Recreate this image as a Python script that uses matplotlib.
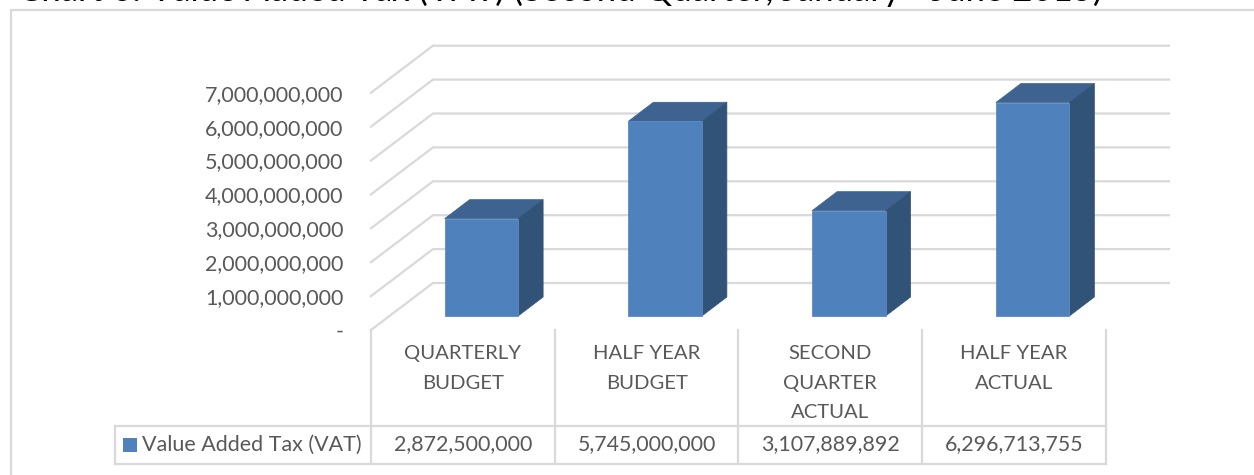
import numpy as np
import matplotlib.pyplot as plt
from matplotlib.patches import Polygon, Rectangle

plt.rcParams['font.family'] = ['Lato', 'DejaVu Sans']

# data
categories = ['QUARTERLY\nBUDGET', 'HALF YEAR\nBUDGET', 'SECOND\nQUARTER\nACTUAL', 'HALF YEAR\nACTUAL']
vat_values = [2872500000, 5745000000, 3107889892, 6296713755]
value_labels = ['2,872,500,000', '5,745,000,000', '3,107,889,892', '6,296,713,755']
tick_values = [0, 1e9, 2e9, 3e9, 4e9, 5e9, 6e9, 7e9]
tick_labels = ['-', '1,000,000,000', '2,000,000,000', '3,000,000,000', '4,000,000,000',
               '5,000,000,000', '6,000,000,000', '7,000,000,000']
series_name = 'Value Added Tax (VAT)'
title = 'Chart 6: Value Added Tax (VAT) (Second Quarter, January - June 2015)'

W, H = 1254, 475
TEXT = '#595959'
GRID = '#D9D9D9'
FRONT = '#4F81BD'
TOP = '#3E6390'
SIDE = '#325378'

fig = plt.figure(figsize=(W / 100, H / 100), dpi=100)

# overlay in pixel coordinates for the frame and the table rules
bg = fig.add_axes([0, 0, 1, 1])
bg.set_xlim(0, W)
bg.set_ylim(H, 0)
bg.axis('off')
bg.plot([11, 11, W], [H, 10, 10], color=GRID, lw=1.6)

# main axes: front plane of the 3d box, value 0 sits on the table top
x0, x1, y0 = 371, 1106, 330
px_per_val = 33.9 / 1e9
ax = fig.add_axes([x0 / W, 1 - y0 / H, (x1 - x0) / W, 7e9 * px_per_val / H])
ax.set_xlim(0, 4)
ax.set_ylim(0, 7e9)
ax.patch.set_alpha(0)
for s in ax.spines.values():
    s.set_visible(False)

ux = 4 / (x1 - x0)      # data units per pixel
uy = 1 / px_per_val

# gridlines run along the floor to the back wall
for v in tick_values:
    ax.plot([0, 62 * ux, (1169 - x0) * ux],
            [v, v + 47 * uy, v + 47 * uy],
            color=GRID, lw=1.6, clip_on=False, zorder=1, solid_joinstyle='miter')

# bars with depth faces, set back from the front plane of the floor
centers = np.arange(4) + 0.5
bar_x = centers + 18.5 * ux
bar_w = 73.5 * ux
base = 14 * uy
dx, dy = 25 * ux, 19 * uy
ax.bar(bar_x, vat_values, width=bar_w, bottom=base, color=FRONT, edgecolor='#5B8AC3', linewidth=0.6, zorder=3)
for c, v in zip(bar_x, vat_values):
    l, r = c - bar_w / 2, c + bar_w / 2
    top = base + v
    ax.add_patch(Polygon([(l, top), (r, top), (r + dx, top + dy), (l + dx, top + dy)],
                         facecolor=TOP, edgecolor=TOP, lw=0.5, clip_on=False, zorder=2.5))
    ax.add_patch(Polygon([(r, base), (r, top), (r + dx, top + dy), (r + dx, base + dy)],
                         facecolor=SIDE, edgecolor=SIDE, lw=0.5, clip_on=False, zorder=2.5))

ax.set_yticks(tick_values)
ax.set_yticklabels(tick_labels, fontsize=15.5, color=TEXT)
ax.tick_params(axis='y', length=0, pad=20)
ax.set_xticks(centers)
ax.set_xticklabels(categories, fontsize=14.6, color=TEXT, linespacing=1.9)
ax.tick_params(axis='x', length=0, pad=11)

# data table under the plot
cell_edges = [371, 555, 738, 922, 1106]
row_top, row_bottom = 426, 464
for x in cell_edges:
    bg.plot([x, x], [y0, row_bottom], color=GRID, lw=1.6)
bg.plot([115, 1106], [row_top, row_top], color=GRID, lw=1.6)
bg.plot([115, 1106], [row_bottom, row_bottom], color=GRID, lw=1.6)
bg.plot([115, 115], [row_top, row_bottom], color=GRID, lw=1.6)
bg.add_patch(Rectangle((123, 438), 14, 14, facecolor=FRONT))
bg.text(142, 444.5, series_name, fontsize=15.5, color=TEXT, va='center', ha='left')
for c, lab in zip(cell_edges[:-1], value_labels):
    bg.text(c + 92, 444.5, lab, fontsize=15.4, color=TEXT, va='center', ha='center')

# title runs off the top edge
bg.text(18, 1, title, fontsize=25, color='black', va='baseline', ha='left', clip_on=False)

fig.savefig('out.png', dpi=100)
